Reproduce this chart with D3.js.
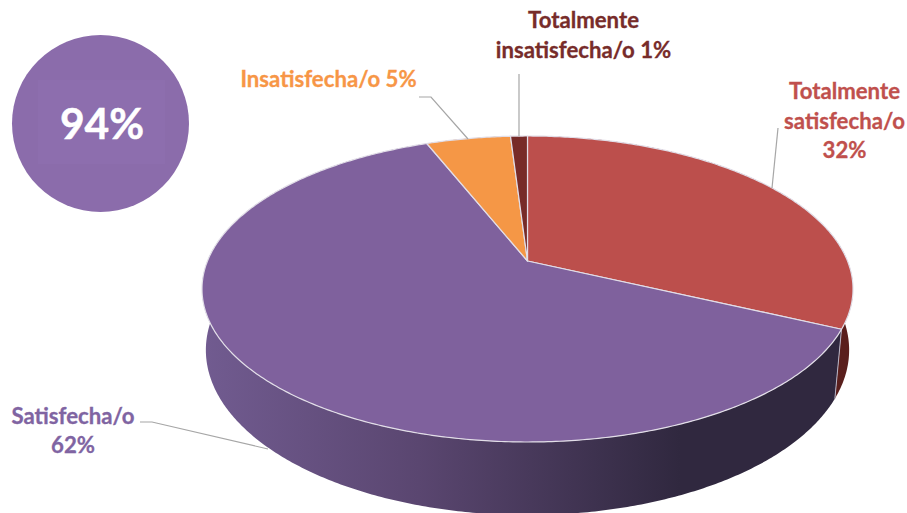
<!DOCTYPE html>
<html>
<head>
<meta charset="utf-8">
<script src="https://cdn.jsdelivr.net/npm/d3@7"></script>
<style>
  html, body { margin: 0; padding: 0; background: #fff; }
  svg { display: block; }
  text { font-family: Lato, "Open Sans", sans-serif; font-weight: 700; }
</style>
</head>
<body>
<div id="chart"></div>
<script>
// clockwise from 12 o'clock, same order as the original
const categories = ['Totalmente satisfecha/o', 'Satisfecha/o', 'Insatisfecha/o', 'Totalmente insatisfecha/o'];
const values = [32, 62, 5, 1];
const topColors = ['#bc4f4c', '#7f619d', '#f59746', '#772b28'];
const wallColors = ['#5a1f1d', 'url(#wallPurple)', '#8a5526', '#4a1c1a'];
const labelColors = ['#c0504d', '#8064a2', '#f79646', '#772c2a'];
const labelLines = [['Totalmente', 'satisfecha/o', '32%'], ['Satisfecha/o', '62%'], ['Insatisfecha/o 5%'], ['Totalmente', 'insatisfecha/o 1%']];
const labelPos = [[844.5, 99], [73, 423.5], [328.5, 87], [583.5, 28]];
const leaders = [
  [[778, 128], [772, 188]],
  [[140, 422], [152, 422], [268, 449]],
  [[419, 97], [431, 97], [468, 139]],
  [[519, 74], [519, 136]]
];
const highlight = '94%';

const width = 907, height = 513;
const cx = 527.5;
// perspective of the top and bottom discs, the apex is not the middle of the ellipse
const topDisc = { tilt: -0.183, ry: 100.1, rx: 320, y0: 261 };
const bottomDisc = { tilt: -0.15, ry: 112.5, rx: 318, y0: 325.3 };

function project(disc, a) {
  const u = Math.sin(a), v = -Math.cos(a), k = 1 + disc.tilt * v;
  return [cx + disc.rx * u / k, (disc.ry * v + disc.y0) / k];
}
function rim(s, disc) {
  const n = Math.max(2, Math.ceil((s.endAngle - s.startAngle) / 0.01));
  return d3.range(n + 1).map(i => project(disc, s.startAngle + (s.endAngle - s.startAngle) * i / n));
}

const line = d3.line();
const slices = d3.pie().sort(null)(values);

const svg = d3.select('#chart').append('svg').attr('width', width).attr('height', height);

const grad = svg.append('defs').append('linearGradient')
  .attr('id', 'wallPurple').attr('gradientUnits', 'userSpaceOnUse')
  .attr('x1', 205).attr('x2', 680).attr('y1', 0).attr('y2', 0);
grad.append('stop').attr('offset', 0).attr('stop-color', '#715b90');
grad.append('stop').attr('offset', 0.45).attr('stop-color', '#5a4670');
grad.append('stop').attr('offset', 1).attr('stop-color', '#30283f');

// highlight circle
svg.append('circle').attr('cx', 100.5).attr('cy', 123.5).attr('r', 88.5).attr('fill', '#8b6cab');
svg.append('rect').attr('x', 38).attr('y', 80).attr('width', 127).attr('height', 84).attr('fill', '#8d6eae');
svg.append('text').attr('x', 102).attr('y', 139).attr('text-anchor', 'middle')
  .attr('font-size', 42.5).attr('fill', '#fff').attr('stroke', '#fff').attr('stroke-width', 0.5).text(highlight);

// walls
svg.append('g').selectAll('path').data(slices).join('path')
  .attr('d', s => line(rim(s, topDisc).concat(rim(s, bottomDisc).reverse())) + 'Z')
  .attr('fill', (s, i) => wallColors[i]);

// seam on the right wall
svg.append('path')
  .attr('d', line([project(topDisc, slices[1].startAngle), project(bottomDisc, slices[1].startAngle)]))
  .attr('stroke', '#b9b4c4').attr('stroke-width', 1).attr('fill', 'none');

// top faces
svg.append('g').selectAll('path').data(slices).join('path')
  .attr('d', s => line([[cx, topDisc.y0]].concat(rim(s, topDisc))) + 'Z')
  .attr('fill', (s, i) => topColors[i])
  .attr('stroke', '#e2dee8').attr('stroke-width', 1.2).attr('stroke-linejoin', 'round');

// leader lines
svg.append('g').selectAll('path').data(leaders).join('path')
  .attr('d', d => line(d)).attr('fill', 'none')
  .attr('stroke', '#a6a6a6').attr('stroke-width', 1.2);

// labels
const lab = svg.append('g').selectAll('text').data(categories).join('text')
  .attr('text-anchor', 'middle').attr('font-size', 22.2)
  .attr('fill', (c, i) => labelColors[i])
  .attr('stroke', (c, i) => labelColors[i]).attr('stroke-width', 0.3)
  .attr('transform', (c, i) => `translate(${labelPos[i][0]},${labelPos[i][1]})`);
lab.selectAll('tspan').data((c, i) => labelLines[i]).join('tspan')
  .attr('x', 0).attr('y', (t, j) => j * 29.5).text(t => t);
</script>
</body>
</html>
